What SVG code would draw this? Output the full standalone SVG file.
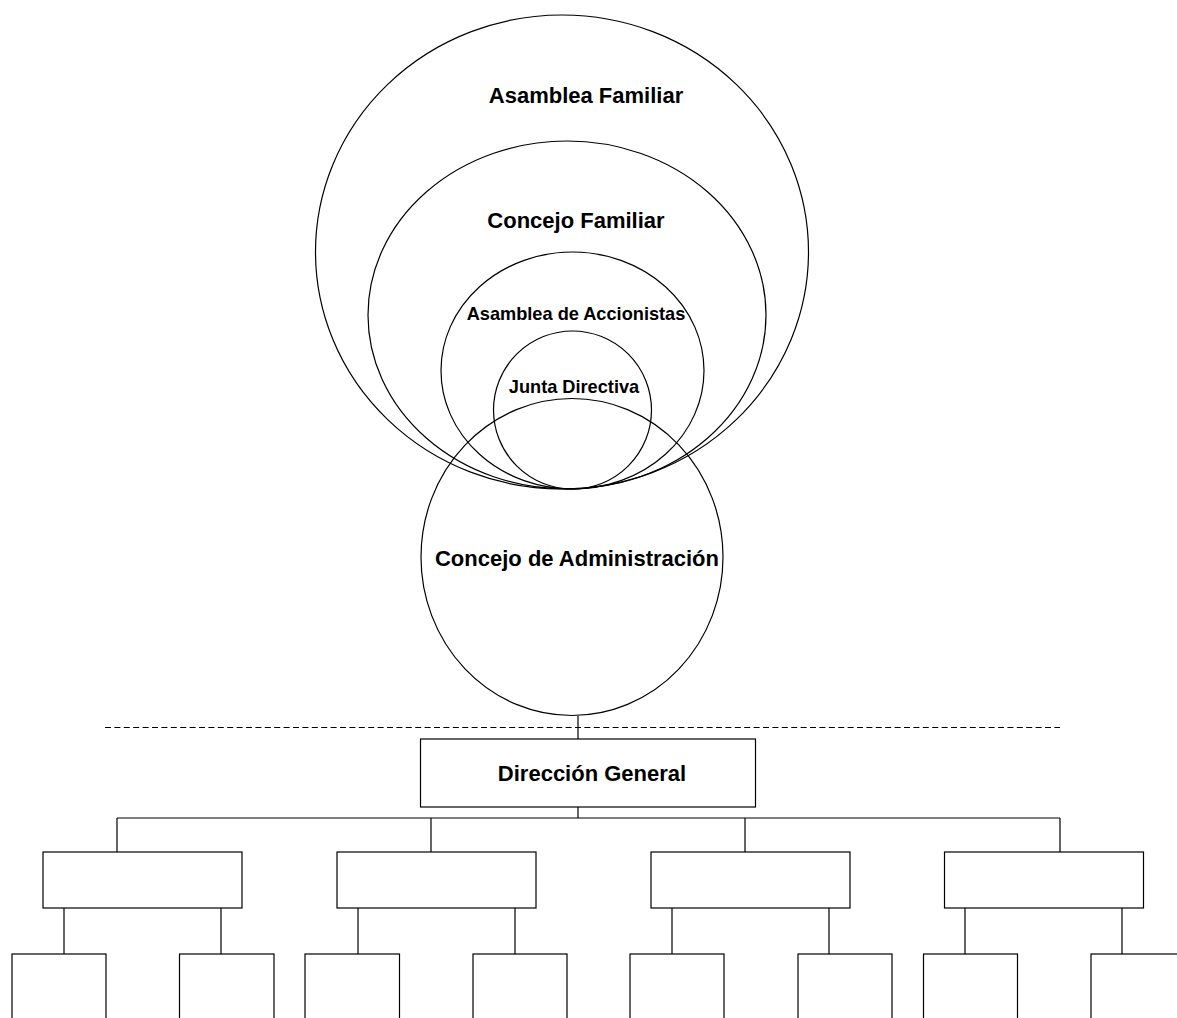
<svg xmlns="http://www.w3.org/2000/svg" width="1177" height="1018" viewBox="0 0 1177 1018">
<style>
.s{fill:none;stroke:#000;stroke-width:1.2}
.b{fill:#fff;stroke:#000;stroke-width:1.2}
.t{font-family:"Liberation Sans",Arial,sans-serif;font-weight:bold;fill:#000;text-anchor:middle}
.l{font-size:22px}
.m{font-size:18.2px}
.c{fill:none;stroke:#000;stroke-width:1.2}
</style>
<rect width="1177" height="1018" fill="#fff"/>
<g id="asamblea-familiar"><ellipse class="s" cx="562" cy="252" rx="246.5" ry="237"/><text class="t l" x="586" y="103">Asamblea Familiar</text></g>
<g id="concejo-familiar"><ellipse class="s" cx="567" cy="315" rx="199" ry="174"/><text class="t l" x="576" y="228">Concejo Familiar</text></g>
<g id="asamblea-accionistas"><ellipse class="s" cx="572.5" cy="370.5" rx="131.5" ry="118.5"/><text class="t m" x="576" y="320">Asamblea de Accionistas</text></g>
<g id="junta-directiva"><ellipse class="s" cx="572.5" cy="410" rx="79" ry="79"/><text class="t m" x="574" y="393">Junta Directiva</text></g>
<g id="concejo-administracion"><ellipse class="s" cx="572" cy="557" rx="151" ry="158.5"/><text class="t l" x="577" y="566">Concejo de Administración</text></g>
<g id="divider"><line x1="105" y1="727.5" x2="1060" y2="727.5" stroke="#000" stroke-width="1.2" stroke-dasharray="6 3.4"/></g>
<g id="connectors">
<path class="c" d="M578 716V739M578 807V818M117 818H1060M117 818V852M431 818V852M745 818V852M1060 818V852"/>
<path class="c" d="M64 908V954M221 908V954M358 908V954M515 908V954M672 908V954M829 908V954M965 908V954M1122 908V954"/>
</g>
<g id="direccion-general"><rect class="b" x="420.5" y="739" width="335" height="68"/><text class="t l" x="592" y="781">Dirección General</text></g>
<g id="unidad-1"><rect class="b" x="43" y="852" width="199" height="56"/></g>
<g id="unidad-2"><rect class="b" x="337" y="852" width="199" height="56"/></g>
<g id="unidad-3"><rect class="b" x="651" y="852" width="199" height="56"/></g>
<g id="unidad-4"><rect class="b" x="944.5" y="852" width="199" height="56"/></g>
<g id="sub-1"><rect class="b" x="12" y="954" width="94" height="80"/></g>
<g id="sub-2"><rect class="b" x="179.5" y="954" width="94.5" height="80"/></g>
<g id="sub-3"><rect class="b" x="305" y="954" width="94.5" height="80"/></g>
<g id="sub-4"><rect class="b" x="473" y="954" width="94" height="80"/></g>
<g id="sub-5"><rect class="b" x="630" y="954" width="94" height="80"/></g>
<g id="sub-6"><rect class="b" x="798" y="954" width="94" height="80"/></g>
<g id="sub-7"><rect class="b" x="923.5" y="954" width="94" height="80"/></g>
<g id="sub-8"><rect class="b" x="1091" y="954" width="94" height="80"/></g>
</svg>
